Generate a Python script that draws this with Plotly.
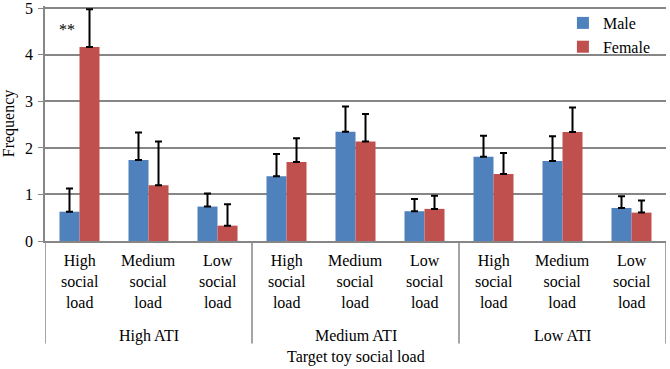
import plotly.graph_objects as go

groups = ["High ATI", "Medium ATI", "Low ATI"]
loads = ["High<br>social<br>load", "Medium<br>social<br>load", "Low<br>social<br>load"]
male = [0.63, 1.74, 0.74, 1.39, 2.35, 0.64, 1.81, 1.72, 0.71]
female = [4.17, 1.20, 0.33, 1.70, 2.14, 0.69, 1.44, 2.34, 0.61]
male_err = [0.50, 0.59, 0.28, 0.48, 0.54, 0.26, 0.45, 0.53, 0.25]
female_err = [0.81, 0.94, 0.46, 0.51, 0.59, 0.28, 0.45, 0.53, 0.26]
y_ticks = [0, 1, 2, 3, 4, 5]

cats = [f"{g}|{l}" for g in groups for l in loads]

FONT = "Liberation Serif, Times New Roman, Times, DejaVu Serif, serif"
AXC = "#868686"

fig = go.Figure()
fig.add_trace(go.Bar(
    x=cats, y=male, name="Male", marker=dict(color="#4F81BD", line=dict(width=0)),
    error_y=dict(type="data", symmetric=False, array=male_err, arrayminus=[0]*9,
                 color="black", thickness=2, width=3.5)))
fig.add_trace(go.Bar(
    x=cats, y=female, name="Female", marker=dict(color="#C0504D", line=dict(width=0)),
    error_y=dict(type="data", symmetric=False, array=female_err, arrayminus=[0]*9,
                 color="black", thickness=2, width=3.5)))

# significance marker
fig.add_annotation(x=cats[0], y=4.55, xref="x", yref="y", text="**", showarrow=False,
                   xshift=-13, font=dict(size=16, color="black", family=FONT))

# inner category labels
for i, c in enumerate(cats):
    fig.add_annotation(x=c, y=-0.172, xref="x", yref="paper", text=loads[i % 3],
                       showarrow=False, yanchor="middle",
                       font=dict(size=16, family=FONT, color="black"))
# group labels and dividers
for gi, g in enumerate(groups):
    fig.add_annotation(x=cats[gi * 3 + 1], y=-0.403, xref="x", yref="paper", text=g,
                       showarrow=False, yanchor="middle",
                       font=dict(size=16, family=FONT, color="black"))
for k in range(len(groups) + 1):
    fig.add_shape(type="line", xref="x", yref="paper", x0=3 * k - 0.5, x1=3 * k - 0.5,
                  y0=0, y1=-0.436, line=dict(color=AXC, width=1.5), layer="above")

fig.add_annotation(x=0.5, y=-0.494, xref="paper", yref="paper", text="Target toy social load",
                   showarrow=False, yanchor="middle",
                   font=dict(size=16, family=FONT, color="black"))

fig.update_layout(
    width=670, height=369,
    margin=dict(l=45, r=4, t=6, b=128, autoexpand=False),
    paper_bgcolor="white", plot_bgcolor="white",
    font=dict(family=FONT, size=16, color="black"),
    barmode="group", bargap=0.42, bargroupgap=0,
    showlegend=True,
    legend=dict(x=0.834, y=1.0, xanchor="left", yanchor="top",
                bgcolor="rgba(0,0,0,0)", font=dict(size=16, family=FONT),
                tracegroupgap=0, itemwidth=30),
    xaxis=dict(type="category", range=[-0.5, 8.5], showline=True, linecolor=AXC,
               linewidth=1.5, showticklabels=False, ticks="", showgrid=False),
    yaxis=dict(range=[0, 5.05], tickvals=y_ticks, showgrid=True, gridcolor=AXC, gridwidth=1.5,
               showline=True, linecolor=AXC, linewidth=1.5, ticks="outside",
               ticklen=5, tickcolor=AXC, zeroline=False, ticklabeloverflow="allow",
               ticklabelstandoff=2,
               tickfont=dict(size=16, family=FONT),
               title=dict(text="Frequency", font=dict(size=16, family=FONT), standoff=8)),
)

fig.write_html("out.html", config={"displayModeBar": False},
               post_script="document.body.style.margin='0px';")
